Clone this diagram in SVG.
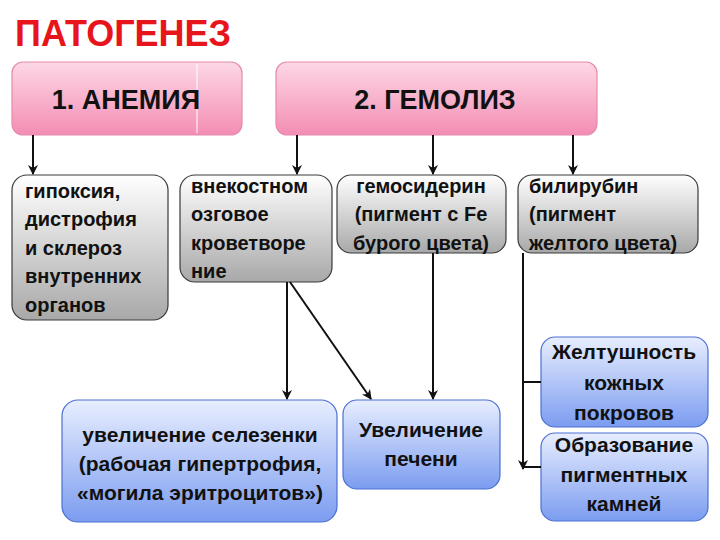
<svg xmlns="http://www.w3.org/2000/svg" width="720" height="540" viewBox="0 0 720 540">
<defs>
<linearGradient id="gPink" x1="0" y1="0" x2="0" y2="1"><stop offset="0" stop-color="#fdd8e6"/><stop offset="1" stop-color="#f38db3"/></linearGradient>
<linearGradient id="gGray" x1="0" y1="0" x2="0" y2="1"><stop offset="0" stop-color="#ffffff"/><stop offset="1" stop-color="#a8a8a8"/></linearGradient>
<linearGradient id="gBlue" x1="0" y1="0" x2="0" y2="1"><stop offset="0" stop-color="#e8eefe"/><stop offset="1" stop-color="#7b9cf0"/></linearGradient>
<marker id="arr" viewBox="0 0 10 10" refX="9" refY="5" markerWidth="5" markerHeight="5" orient="auto" markerUnits="strokeWidth"><path d="M0,0 L10,5 L0,10 L3,5 Z" fill="#111"/></marker>
<style>
.pink{fill:url(#gPink);stroke:#e58bad;stroke-width:1.2}
.gray{fill:url(#gGray);stroke:#3a3a3a;stroke-width:1.2}
.blue{fill:url(#gBlue);stroke:#4c70d2;stroke-width:1.2}
.t{font-family:"Liberation Sans",Arial,sans-serif;font-weight:bold;fill:#111}
.h{font-size:27px}
.b{font-size:20px}
.bb{font-size:21px}
.c{text-anchor:middle}
.ln{stroke:#111;stroke-width:2;fill:none}
.ar{marker-end:url(#arr)}
</style>
</defs>
<rect width="720" height="540" fill="#ffffff"/>
<text x="15" y="46" font-family="Liberation Sans,Arial,sans-serif" font-weight="bold" font-size="36" fill="#e8141c">ПАТОГЕНЕЗ</text>

<g id="anemia">
<rect class="pink" x="12" y="62" width="230" height="73" rx="11"/>
<line x1="197" y1="64" x2="197" y2="133" stroke="#ffffff" stroke-width="1"/>
<text class="t h c" x="126" y="109">1. АНЕМИЯ</text>
</g>
<g id="hemolysis">
<rect class="pink" x="276" y="62" width="321" height="73" rx="11"/>
<text class="t h c" x="435" y="109">2. ГЕМОЛИЗ</text>
</g>

<g id="hypoxia">
<rect class="gray" x="12" y="175" width="156" height="145" rx="15"/>
<text class="t b" x="25" y="198">гипоксия,</text>
<text class="t b" x="25" y="226">дистрофия</text>
<text class="t b" x="25" y="255">и склероз</text>
<text class="t b" x="25" y="283">внутренних</text>
<text class="t b" x="25" y="312">органов</text>
</g>
<g id="extramedullary">
<rect class="gray" x="180" y="175" width="152" height="107" rx="15"/>
<text class="t b" x="191" y="193">внекостном</text>
<text class="t b" x="191" y="221">озговое</text>
<text class="t b" x="191" y="250">кроветворе</text>
<text class="t b" x="191" y="278">ние</text>
</g>
<g id="hemosiderin">
<rect class="gray" x="337" y="175" width="169" height="78" rx="14"/>
<text class="t b c" x="421" y="193">гемосидерин</text>
<text class="t b c" x="421" y="221">(пигмент с Fe</text>
<text class="t b c" x="421" y="250">бурого цвета)</text>
</g>
<g id="bilirubin">
<rect class="gray" x="518" y="175" width="180" height="78" rx="14"/>
<text class="t b" x="529" y="193">билирубин</text>
<text class="t b" x="529" y="221">(пигмент</text>
<text class="t b" x="529" y="250">желтого цвета)</text>
</g>

<g id="spleen">
<rect class="blue" x="62" y="400" width="275" height="122" rx="16"/>
<text class="t bb c" x="200" y="442">увеличение селезенки</text>
<text class="t bb c" x="200" y="471">(рабочая гипертрофия,</text>
<text class="t bb c" x="200" y="500">«могила эритроцитов»)</text>
</g>
<g id="liver">
<rect class="blue" x="343" y="400" width="157" height="89" rx="14"/>
<text class="t bb c" x="421" y="437">Увеличение</text>
<text class="t bb c" x="421" y="466">печени</text>
</g>
<g id="jaundice">
<rect class="blue" x="541" y="337" width="167" height="90" rx="14"/>
<text class="t bb c" x="624" y="359">Желтушность</text>
<text class="t bb c" x="624" y="390">кожных</text>
<text class="t bb c" x="624" y="420">покровов</text>
</g>
<g id="stones">
<rect class="blue" x="541" y="433" width="167" height="88" rx="14"/>
<text class="t bb c" x="624" y="452">Образование</text>
<text class="t bb c" x="624" y="482">пигментных</text>
<text class="t bb c" x="624" y="511">камней</text>
</g>

<g id="connectors">
<line class="ln ar" x1="33" y1="135" x2="33" y2="174"/>
<line class="ln ar" x1="297" y1="135" x2="297" y2="174"/>
<line class="ln ar" x1="433" y1="135" x2="433" y2="174"/>
<line class="ln ar" x1="573" y1="135" x2="573" y2="174"/>
<line class="ln ar" x1="287" y1="282" x2="287" y2="399"/>
<line class="ln ar" x1="290" y1="282" x2="371" y2="399"/>
<line class="ln ar" x1="433" y1="253" x2="433" y2="399"/>
<line class="ln ar" x1="523" y1="253" x2="523" y2="469"/>
<line class="ln" x1="523" y1="382" x2="541" y2="382"/>
<line class="ln" x1="523" y1="467" x2="541" y2="467"/>
</g>
</svg>
